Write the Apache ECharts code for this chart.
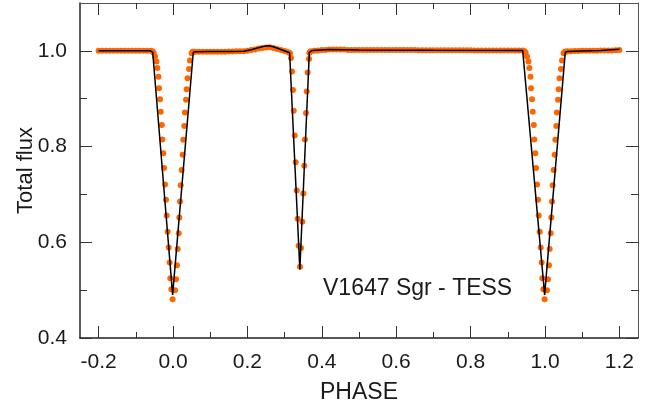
<!DOCTYPE html>
<html>
<head>
<meta charset="utf-8">
<title>V1647 Sgr - TESS</title>
<script src="https://cdn.jsdelivr.net/npm/echarts@6/dist/echarts.min.js"></script>
<style>
  html, body { margin: 0; padding: 0; background: #ffffff; }
  #chart { width: 656px; height: 410px; }
</style>
</head>
<body>
<div id="chart"></div>
<script>
// Tick positions for the phase (x) and flux (y) axes
const phaseTicks = [-0.2, 0.0, 0.2, 0.4, 0.6, 0.8, 1.0, 1.2];
const phaseMinorTicks = [-0.1, 0.1, 0.3, 0.5, 0.7, 0.9, 1.1];
const fluxTicks = [0.4, 0.6, 0.8, 1.0];
const fluxMinorTicks = [0.5, 0.7, 0.9];

// Observed TESS fluxes, [phase, total flux], in phase order
const outsideA = [
  [-0.20, 1.000], [-0.19, 1.000], [-0.18, 1.000], [-0.17, 1.000], [-0.16, 1.000],
  [-0.15, 1.000], [-0.14, 1.000], [-0.13, 1.000], [-0.12, 1.000], [-0.11, 1.000],
  [-0.10, 1.000], [-0.09, 1.000], [-0.08, 1.000], [-0.07, 1.000], [-0.06, 1.000],
  [-0.055, 0.999], [-0.052, 0.996]
];
const primaryMin = [
  [-0.0483, 0.988], [-0.0445, 0.978], [-0.0420, 0.964], [-0.0390, 0.946], [-0.0375, 0.922],
  [-0.0350, 0.899], [-0.0330, 0.873], [-0.0300, 0.845], [-0.0287, 0.815], [-0.0260, 0.786],
  [-0.0240, 0.755], [-0.0214, 0.721], [-0.0188, 0.689], [-0.0170, 0.656], [-0.0143, 0.622],
  [-0.0116, 0.589], [-0.0090, 0.558], [-0.0072, 0.525], [-0.0045, 0.502], [-0.0010, 0.481],
  [0.0054, 0.500], [0.0080, 0.523], [0.0107, 0.552], [0.0126, 0.586], [0.0153, 0.619],
  [0.0170, 0.652], [0.0188, 0.685], [0.0206, 0.719], [0.0233, 0.751], [0.0260, 0.783],
  [0.0277, 0.814], [0.0304, 0.843], [0.0320, 0.871], [0.0350, 0.898], [0.0367, 0.920],
  [0.0390, 0.943], [0.0430, 0.962], [0.0456, 0.980], [0.0500, 0.995], [0.0530, 0.998]
];
const outsideB = [
  [0.056, 0.998], [0.06, 0.998], [0.07, 0.998], [0.08, 0.998], [0.09, 0.998],
  [0.10, 0.998], [0.11, 0.998], [0.12, 0.998], [0.13, 0.998], [0.14, 0.998],
  [0.15, 0.9985], [0.16, 0.9985], [0.17, 0.999], [0.18, 0.999], [0.19, 0.999],
  [0.20, 1.000], [0.21, 1.002], [0.22, 1.003], [0.23, 1.005], [0.24, 1.006],
  [0.25, 1.007], [0.26, 1.0075], [0.27, 1.006], [0.28, 1.004], [0.29, 1.002],
  [0.30, 0.9995], [0.31, 0.997], [0.3145, 0.995]
];
const secondaryMin = [
  [0.3172, 0.985], [0.3199, 0.957], [0.3226, 0.918], [0.3245, 0.875], [0.3272, 0.823],
  [0.3298, 0.767], [0.3325, 0.708], [0.3352, 0.649], [0.3379, 0.593], [0.3414, 0.549],
  [0.3441, 0.588], [0.3476, 0.643], [0.3503, 0.702], [0.3530, 0.760], [0.3548, 0.815],
  [0.3575, 0.870], [0.3594, 0.915], [0.3621, 0.955], [0.3656, 0.983]
];
const outsideC = [
  [0.3665, 0.996], [0.37, 0.999], [0.38, 1.000], [0.39, 1.001], [0.40, 1.002],
  [0.41, 1.002], [0.42, 1.003], [0.43, 1.003], [0.44, 1.003], [0.45, 1.003],
  [0.46, 1.003], [0.47, 1.002], [0.48, 1.002], [0.49, 1.002], [0.50, 1.002],
  [0.51, 1.002], [0.52, 1.002], [0.53, 1.002], [0.54, 1.002], [0.55, 1.002],
  [0.56, 1.002], [0.57, 1.002], [0.58, 1.002], [0.59, 1.002], [0.60, 1.002],
  [0.61, 1.002], [0.62, 1.002], [0.63, 1.002], [0.64, 1.002], [0.65, 1.002],
  [0.66, 1.0015], [0.67, 1.0015], [0.68, 1.0015], [0.69, 1.0015], [0.70, 1.0015],
  [0.71, 1.0015], [0.72, 1.0015], [0.73, 1.0015], [0.74, 1.0015], [0.75, 1.0015],
  [0.76, 1.0015], [0.77, 1.0015], [0.78, 1.0015], [0.79, 1.0015], [0.80, 1.0015],
  [0.81, 1.001], [0.82, 1.001], [0.83, 1.001], [0.84, 1.001], [0.85, 1.001],
  [0.86, 1.001], [0.87, 1.001], [0.88, 1.001], [0.89, 1.001], [0.90, 1.001],
  [0.91, 1.001], [0.92, 1.001], [0.93, 1.001], [0.94, 1.0005], [0.945, 0.999],
  [0.948, 0.996]
];
const primaryMin2 = [
  [0.9517, 0.988], [0.9555, 0.978], [0.9580, 0.964], [0.9610, 0.946], [0.9625, 0.922],
  [0.9650, 0.899], [0.9670, 0.873], [0.9700, 0.845], [0.9713, 0.815], [0.9740, 0.786],
  [0.9760, 0.755], [0.9786, 0.721], [0.9812, 0.689], [0.9830, 0.656], [0.9857, 0.622],
  [0.9884, 0.589], [0.9910, 0.558], [0.9928, 0.525], [0.9955, 0.502], [0.9990, 0.481],
  [1.0054, 0.500], [1.0080, 0.523], [1.0107, 0.552], [1.0126, 0.586], [1.0153, 0.619],
  [1.0170, 0.652], [1.0188, 0.685], [1.0206, 0.719], [1.0233, 0.751], [1.0260, 0.783],
  [1.0277, 0.814], [1.0304, 0.843], [1.0320, 0.871], [1.0350, 0.898], [1.0367, 0.920],
  [1.0390, 0.943], [1.0430, 0.962], [1.0456, 0.980], [1.0500, 0.995], [1.0530, 0.998]
];
const outsideD = [
  [1.056, 0.998], [1.06, 0.999], [1.07, 0.999], [1.08, 0.9995], [1.09, 0.9995],
  [1.10, 1.000], [1.11, 1.000], [1.12, 1.000], [1.13, 1.000], [1.14, 1.000],
  [1.15, 1.0005], [1.16, 1.0005], [1.17, 1.001], [1.18, 1.001], [1.19, 1.0015],
  [1.20, 1.002]
];

// Fitted light-curve model, [phase, total flux]
const modelCurve = [
  [-0.20, 1.000], [-0.10, 1.000], [-0.060, 1.000], [-0.0545, 0.997], [-0.001, 0.490],
  [0.0545, 0.997], [0.060, 0.998], [0.10, 0.9985], [0.15, 0.9985], [0.19, 0.999],
  [0.21, 1.0025], [0.23, 1.0065], [0.245, 1.0095], [0.256, 1.0105], [0.27, 1.0085],
  [0.3135, 0.996], [0.341, 0.543], [0.3665, 0.997], [0.375, 1.001], [0.42, 1.003],
  [0.50, 1.002], [0.70, 1.0015], [0.94, 1.001], [0.9445, 0.997], [0.999, 0.490],
  [1.0545, 0.997], [1.06, 0.9985], [1.10, 0.9995], [1.15, 1.0005], [1.20, 1.0035]
];

const observed = [].concat(outsideA, primaryMin, outsideB, secondaryMin,
                           outsideC, primaryMin2, outsideD);

const FONT = '"Liberation Sans", Arial, Helvetica, sans-serif';
const INK = '#1a1a1a';

// One axis layer: frame side, major or minor ticks, optional labels
function phaseAxis(position, ticks, len, withLine, withLabels, extra) {
  return Object.assign({
    type: 'value', position: position, min: -0.25, max: 1.25,
    splitLine: { show: false },
    axisLine: {
      show: withLine, onZero: false,
      lineStyle: { color: position === 'bottom' ? '#222' : '#555', width: position === 'bottom' ? 1.5 : 1 }
    },
    axisTick: {
      show: true, inside: true, length: len, customValues: ticks,
      lineStyle: { color: '#333', width: 1 }
    },
    axisLabel: withLabels ? {
      show: true, customValues: ticks, margin: 14,
      fontFamily: FONT, fontSize: 21, color: INK,
      formatter: function (v) { return v.toFixed(1); }
    } : { show: false }
  }, extra || {});
}
function fluxAxis(position, ticks, len, withLine, withLabels, extra) {
  return Object.assign({
    type: 'value', position: position, min: 0.4, max: 1.1,
    splitLine: { show: false },
    axisLine: {
      show: withLine, onZero: false,
      lineStyle: { color: position === 'left' ? '#222' : '#555', width: position === 'left' ? 1.5 : 1 }
    },
    axisTick: {
      show: true, inside: true, length: len, customValues: ticks,
      lineStyle: { color: '#333', width: 1 }
    },
    axisLabel: withLabels ? {
      show: true, customValues: ticks, margin: 13,
      fontFamily: FONT, fontSize: 21, color: INK,
      formatter: function (v) { return v.toFixed(1); }
    } : { show: false }
  }, extra || {});
}

const chart = echarts.init(document.getElementById('chart'), null, { renderer: 'canvas' });
chart.setOption({
  backgroundColor: '#ffffff',
  animation: false,
  grid: { left: 80, top: 3, width: 558, height: 335, containLabel: false },
  xAxis: [
    phaseAxis('bottom', phaseTicks, 12, true, true, {
      name: 'PHASE', nameLocation: 'middle', nameGap: 43, nameMoveOverlap: false,
      nameTextStyle: { fontFamily: FONT, fontSize: 23, color: INK }
    }),
    phaseAxis('bottom', phaseMinorTicks, 6, false, false),
    phaseAxis('top', phaseTicks, 12, true, false),
    phaseAxis('top', phaseMinorTicks, 6, false, false)
  ],
  yAxis: [
    fluxAxis('left', fluxTicks, 12, true, true, {
      name: 'Total flux', nameLocation: 'middle', nameGap: 43, nameRotate: 90,
      nameMoveOverlap: false,
      nameTextStyle: { fontFamily: FONT, fontSize: 22, color: INK }
    }),
    fluxAxis('left', fluxMinorTicks, 7, false, false),
    fluxAxis('right', fluxTicks, 12, true, false),
    fluxAxis('right', fluxMinorTicks, 7, false, false)
  ],
  graphic: [{
    type: 'text', left: 323, top: 277,
    style: { text: 'V1647 Sgr - TESS', font: '23px ' + FONT, fill: INK }
  }],
  series: [
    {
      name: 'TESS', type: 'scatter', xAxisIndex: 0, yAxisIndex: 0,
      data: observed, symbol: 'circle', symbolSize: 6,
      itemStyle: { color: '#ff6600', opacity: 1 },
      emphasis: { disabled: true }, z: 2
    },
    {
      name: 'Model', type: 'line', xAxisIndex: 0, yAxisIndex: 0,
      data: modelCurve, showSymbol: false, smooth: false,
      lineStyle: { color: '#000000', width: 1.5 },
      emphasis: { disabled: true }, z: 3
    }
  ]
});
</script>
</body>
</html>
